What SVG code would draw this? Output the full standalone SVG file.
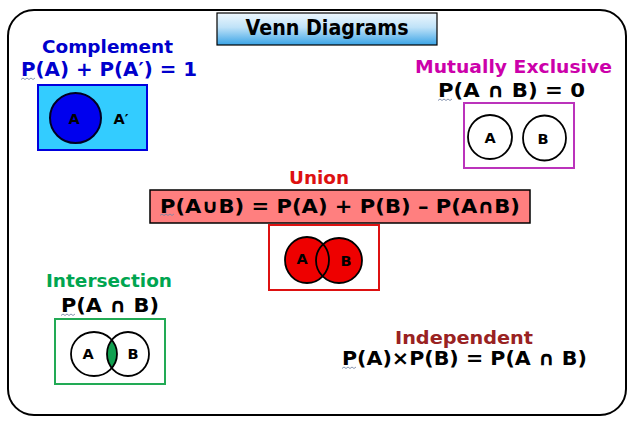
<svg xmlns="http://www.w3.org/2000/svg" width="634" height="428" viewBox="0 0 634 428">
<style>
text{font-family:"DejaVu Sans","Verdana","Liberation Sans",sans-serif;font-weight:bold;}
.h{font-size:18.5px;text-anchor:middle;}
.eq{font-size:19.5px;text-anchor:middle;fill:#000;}
.lbl{font-size:14.5px;text-anchor:middle;fill:#000;}
.ring{fill:none;stroke:#000;stroke-width:1.8;}
.sq{fill:none;stroke:#7a8aa8;stroke-width:0.9;}
</style>
<defs>
<linearGradient id="tg" x1="0" y1="0" x2="0" y2="1">
<stop offset="0" stop-color="#eef7fd"/>
<stop offset="0.45" stop-color="#bfe2f8"/>
<stop offset="1" stop-color="#3aa4e6"/>
</linearGradient>
<clipPath id="clipA"><ellipse cx="94" cy="354" rx="23" ry="22"/></clipPath>
</defs>
<rect width="634" height="428" fill="#fff"/>
<rect x="8" y="10" width="618" height="405" rx="26" ry="26" fill="#fff" stroke="#000" stroke-width="2"/>

<g id="title">
<rect x="217" y="13" width="220" height="32" fill="url(#tg)" stroke="#000" stroke-width="1.2"/>
<text x="327" y="34.5" style="font-size:20.5px;text-anchor:middle" textLength="163" lengthAdjust="spacingAndGlyphs">Venn Diagrams</text>
</g>

<g id="complement">
<text class="h" x="107.5" y="53" fill="#0000cc" textLength="131" lengthAdjust="spacingAndGlyphs">Complement</text>
<text class="eq" x="109" y="76" style="fill:#0000cc" textLength="176" lengthAdjust="spacingAndGlyphs">P(A) + P(A′) = 1</text>
<path class="sq" d="M21 79.5 l2 -1.5 l2 1.5 l2 -1.5 l2 1.5 l2 -1.5 l2 1.5 l2 -1.5"/>
<rect x="38" y="85" width="109" height="65" fill="#33ccff" stroke="#0000dd" stroke-width="2"/>
<ellipse cx="75.5" cy="118" rx="25.5" ry="25" fill="#0000ee" stroke="#000022" stroke-width="2"/>
<text class="lbl" x="74" y="123.5">A</text>
<text class="lbl" x="121" y="123.5">A′</text>
</g>

<g id="mutually-exclusive">
<text class="h" x="513.5" y="73" fill="#cc00aa" textLength="197" lengthAdjust="spacingAndGlyphs">Mutually Exclusive</text>
<text class="eq" x="511.5" y="97" textLength="147" lengthAdjust="spacingAndGlyphs">P(A ∩ B) = 0</text>
<path class="sq" d="M438 100.5 l2 -1.5 l2 1.5 l2 -1.5 l2 1.5 l2 -1.5 l2 1.5 l2 -1.5"/>
<rect x="464" y="103" width="110" height="65" fill="#fff" stroke="#bb33bb" stroke-width="2"/>
<ellipse class="ring" cx="490" cy="137" rx="22" ry="22"/>
<ellipse class="ring" cx="544.5" cy="138" rx="21.5" ry="22.5"/>
<text class="lbl" x="490" y="142.5">A</text>
<text class="lbl" x="543" y="143.5">B</text>
</g>

<g id="union">
<text class="h" x="319" y="184" fill="#dd1111" textLength="60" lengthAdjust="spacingAndGlyphs">Union</text>
<rect x="150" y="190" width="380" height="33" fill="#ff7f7f" stroke="#000" stroke-width="1.5"/>
<text class="eq" x="340" y="212.5" textLength="360" lengthAdjust="spacingAndGlyphs">P(A∪B) = P(A) + P(B) – P(A∩B)</text>
<path class="sq" d="M160 215.5 l2 -1.5 l2 1.5 l2 -1.5 l2 1.5 l2 -1.5 l2 1.5 l2 -1.5"/>
<rect x="269" y="225" width="110" height="65" fill="#fff" stroke="#dd1111" stroke-width="2"/>
<ellipse cx="307" cy="260" rx="22" ry="23" fill="#ee0000"/>
<ellipse cx="339" cy="260.5" rx="23" ry="22.5" fill="#ee0000"/>
<ellipse class="ring" cx="307" cy="260" rx="22" ry="23"/>
<ellipse class="ring" cx="339" cy="260.5" rx="23" ry="22.5"/>
<text class="lbl" x="302" y="263.5">A</text>
<text class="lbl" x="346" y="265.5">B</text>
</g>

<g id="intersection">
<text class="h" x="109" y="287" fill="#00a550" textLength="126" lengthAdjust="spacingAndGlyphs">Intersection</text>
<text class="eq" x="110" y="312" textLength="98" lengthAdjust="spacingAndGlyphs">P(A ∩ B)</text>
<path class="sq" d="M61 315.5 l2 -1.5 l2 1.5 l2 -1.5 l2 1.5 l2 -1.5 l2 1.5 l2 -1.5"/>
<rect x="55" y="319" width="110" height="65" fill="#fff" stroke="#22aa55" stroke-width="2"/>
<ellipse cx="128" cy="354" rx="21" ry="22" fill="#11a050" clip-path="url(#clipA)"/>
<ellipse class="ring" cx="94" cy="354" rx="23" ry="22"/>
<ellipse class="ring" cx="128" cy="354" rx="21" ry="22"/>
<text class="lbl" x="88" y="358.5">A</text>
<text class="lbl" x="133" y="358.5">B</text>
</g>

<g id="independent">
<text class="h" x="464" y="344" fill="#992222" textLength="138" lengthAdjust="spacingAndGlyphs">Independent</text>
<text class="eq" x="464.5" y="365" textLength="245" lengthAdjust="spacingAndGlyphs">P(A)×P(B) = P(A ∩ B)</text>
<path class="sq" d="M342 368.5 l2 -1.5 l2 1.5 l2 -1.5 l2 1.5 l2 -1.5 l2 1.5 l2 -1.5"/>
</g>
</svg>
